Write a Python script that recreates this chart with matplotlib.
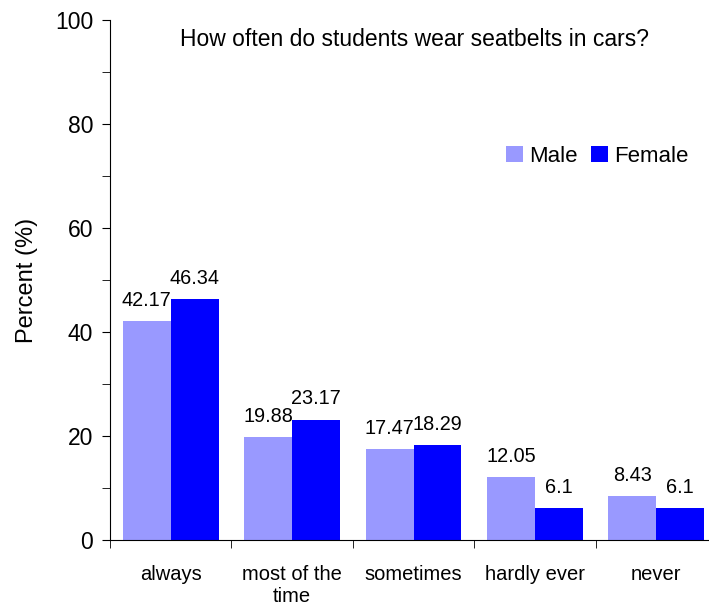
import matplotlib
matplotlib.use("Agg")
import matplotlib.pyplot as plt
import numpy as np

plt.rcParams['font.family'] = ['Liberation Sans', 'DejaVu Sans']

categories = ['always', 'most of the\ntime', 'sometimes', 'hardly ever', 'never']
male = [42.17, 19.88, 17.47, 12.05, 8.43]
female = [46.34, 23.17, 18.29, 6.1, 6.1]
male_labels = ['42.17', '19.88', '17.47', '12.05', '8.43']
female_labels = ['46.34', '23.17', '18.29', '6.1', '6.1']

fig = plt.figure(figsize=(7.09, 6.12), dpi=100)
ax = fig.add_axes([110/709, 1 - 540/612, 607/709, 520/612])

x = np.arange(len(categories))
w = 0.395
b1 = ax.bar(x - w/2, male, w, color='#9999FF', label='Male')
b2 = ax.bar(x + w/2, female, w, color='#0000FF', label='Female')
ax.bar_label(b1, labels=male_labels, padding=8, fontsize=14.3)
ax.bar_label(b2, labels=female_labels, padding=8, fontsize=14.3)

ax.set_xlim(-0.5, 4.5)
ax.set_ylim(0, 100)
ax.set_yticks([0, 20, 40, 60, 80, 100])
ax.set_yticks(np.arange(10, 100, 20), minor=True)
ax.tick_params(axis='y', which='both', direction='out', length=6, labelsize=16.5, pad=6)
ax.set_xticks(x)
ax.set_xticklabels(categories, fontsize=14.5)
ax.set_xticks(np.arange(-0.5, 5, 1), minor=True)
ax.tick_params(axis='x', which='major', length=0, pad=18)
ax.tick_params(axis='x', which='minor', direction='out', length=6)

for s in ['top', 'right']:
    ax.spines[s].set_visible(False)

ax.set_ylabel('Percent (%)', fontsize=17, labelpad=12)

fig.text(414/709, 1 - 40/612, 'How often do students wear seatbelts in cars?',
         fontsize=16.5, ha='center', va='center')

fig.legend(handles=[b1, b2], loc='center left', bbox_to_anchor=(497/709, 1 - 156/612),
           ncol=2, frameon=False, fontsize=16, handlelength=0.75, handleheight=0.75,
           handletextpad=0.3, columnspacing=0.6, borderaxespad=0)

fig.savefig('out.png', dpi=100)
